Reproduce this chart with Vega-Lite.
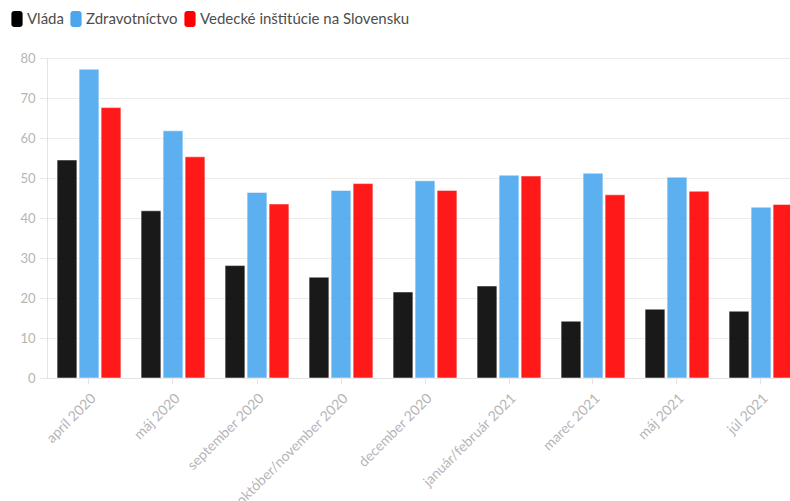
{
  "$schema": "https://vega.github.io/schema/vega-lite/v6.json",
  "width": 743,
  "height": 320,
  "autosize": {"type": "none"},
  "padding": {"left": 47, "top": 58, "right": 0, "bottom": 123},
  "background": "white",
  "config": {
    "view": {"stroke": null},
    "font": "Lato"
  },
  "data": {
    "values": [
      {"obdobie": "apríl 2020", "skupina": "Vláda", "hodnota": 54.5},
      {"obdobie": "apríl 2020", "skupina": "Zdravotníctvo", "hodnota": 77.2},
      {"obdobie": "apríl 2020", "skupina": "Vedecké inštitúcie na Slovensku", "hodnota": 67.6},
      {"obdobie": "máj 2020", "skupina": "Vláda", "hodnota": 41.8},
      {"obdobie": "máj 2020", "skupina": "Zdravotníctvo", "hodnota": 61.8},
      {"obdobie": "máj 2020", "skupina": "Vedecké inštitúcie na Slovensku", "hodnota": 55.3},
      {"obdobie": "september 2020", "skupina": "Vláda", "hodnota": 28.1},
      {"obdobie": "september 2020", "skupina": "Zdravotníctvo", "hodnota": 46.4},
      {"obdobie": "september 2020", "skupina": "Vedecké inštitúcie na Slovensku", "hodnota": 43.5},
      {"obdobie": "október/november 2020", "skupina": "Vláda", "hodnota": 25.2},
      {"obdobie": "október/november 2020", "skupina": "Zdravotníctvo", "hodnota": 46.9},
      {"obdobie": "október/november 2020", "skupina": "Vedecké inštitúcie na Slovensku", "hodnota": 48.6},
      {"obdobie": "december 2020", "skupina": "Vláda", "hodnota": 21.5},
      {"obdobie": "december 2020", "skupina": "Zdravotníctvo", "hodnota": 49.3},
      {"obdobie": "december 2020", "skupina": "Vedecké inštitúcie na Slovensku", "hodnota": 46.9},
      {"obdobie": "január/február 2021", "skupina": "Vláda", "hodnota": 23.0},
      {"obdobie": "január/február 2021", "skupina": "Zdravotníctvo", "hodnota": 50.7},
      {"obdobie": "január/február 2021", "skupina": "Vedecké inštitúcie na Slovensku", "hodnota": 50.5},
      {"obdobie": "marec 2021", "skupina": "Vláda", "hodnota": 14.2},
      {"obdobie": "marec 2021", "skupina": "Zdravotníctvo", "hodnota": 51.2},
      {"obdobie": "marec 2021", "skupina": "Vedecké inštitúcie na Slovensku", "hodnota": 45.8},
      {"obdobie": "máj 2021", "skupina": "Vláda", "hodnota": 17.2},
      {"obdobie": "máj 2021", "skupina": "Zdravotníctvo", "hodnota": 50.2},
      {"obdobie": "máj 2021", "skupina": "Vedecké inštitúcie na Slovensku", "hodnota": 46.7},
      {"obdobie": "júl 2021", "skupina": "Vláda", "hodnota": 16.7},
      {"obdobie": "júl 2021", "skupina": "Zdravotníctvo", "hodnota": 42.7},
      {"obdobie": "júl 2021", "skupina": "Vedecké inštitúcie na Slovensku", "hodnota": 43.4}
    ]
  },
  "mark": {"type": "bar", "fillOpacity": 0.9, "stroke": "white", "strokeOpacity": 0.5, "strokeWidth": 1},
  "encoding": {
    "x": {
      "field": "obdobie",
      "type": "nominal",
      "sort": null,
      "scale": {"range": [0, 756], "paddingInner": 0.24, "paddingOuter": 0.12},
      "axis": {
        "title": null,
        "labelAngle": -45,
        "labelAlign": "right",
        "labelBaseline": "top",
        "labelFontSize": 14,
        "labelColor": "#b5b5b5",
        "labelPadding": 7,
        "tickSize": 6,
        "tickColor": "#e3e3e3",
        "domainColor": "#e3e3e3",
        "labelOverlap": false,
        "labelLimit": 300
      }
    },
    "xOffset": {
      "field": "skupina",
      "type": "nominal",
      "sort": ["Vláda", "Zdravotníctvo", "Vedecké inštitúcie na Slovensku"],
      "scale": {"paddingInner": 0.1, "paddingOuter": 0}
    },
    "y": {
      "field": "hodnota",
      "type": "quantitative",
      "scale": {"domain": [0, 80], "nice": false},
      "axis": {
        "title": null,
        "values": [0, 10, 20, 30, 40, 50, 60, 70, 80],
        "labelFontSize": 13,
        "labelColor": "#b5b5b5",
        "labelPadding": 4,
        "tickSize": 8,
        "tickColor": "#e8e8e8",
        "gridColor": "#ebebeb",
        "domainColor": "#e3e3e3"
      }
    },
    "color": {
      "field": "skupina",
      "type": "nominal",
      "scale": {
        "domain": ["Vláda", "Zdravotníctvo", "Vedecké inštitúcie na Slovensku"],
        "range": ["#000000", "#4aa7ee", "#ff0000"]
      },
      "legend": {
        "title": null,
        "orient": "none",
        "legendX": -38,
        "legendY": -47,
        "direction": "horizontal",
        "symbolType": "M-0.35,-1 h0.7 a0.35,0.35 0 0 1 0.35,0.35 v1.3 a0.35,0.35 0 0 1 -0.35,0.35 h-0.7 a0.35,0.35 0 0 1 -0.35,-0.35 v-1.3 a0.35,0.35 0 0 1 0.35,-0.35 z",
        "symbolSize": 256,
        "symbolStrokeWidth": 0,
        "symbolOpacity": 1,
        "labelFontSize": 15,
        "labelColor": "#4d4d4d",
        "labelOffset": 2,
        "labelLimit": 400,
        "columnPadding": 4
      }
    }
  }
}
